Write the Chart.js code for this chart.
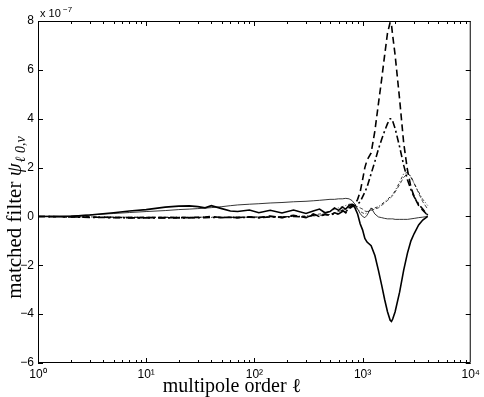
<!DOCTYPE html>
<html>
<head>
<meta charset="utf-8">
<script src="https://cdn.jsdelivr.net/npm/chart.js@4"></script>
<style>
  html, body { margin: 0; padding: 0; background: #fff; }
  #wrap { width: 484px; height: 397px; }
</style>
</head>
<body>
<div id="wrap"><canvas id="chart" width="484" height="397"></canvas></div>
<script>
// multipole order
const ell = [1, 2, 3, 5, 7, 10, 15, 20, 25, 30, 35, 40, 50, 60, 70, 90, 110, 140, 180, 230,
  300, 350, 400, 450, 500, 550, 600, 650, 700, 750, 800, 850, 900, 950, 1000, 1050, 1100,
  1200, 1300, 1400, 1500, 1600, 1700, 1800, 1850, 1900, 2000, 2200, 2400, 2600, 2800,
  3000, 3300, 3600, 4000];

// filter values, units of 1e-7
const thickSolid = [0, 0.01, 0.06, 0.15, 0.22, 0.28, 0.38, 0.42, 0.43, 0.4, 0.35, 0.44, 0.32, 0.22, 0.2, 0.26, 0.15, 0.25, 0.14, 0.26,
  0.12, 0.22, 0.3, 0.15, 0.2, 0.35, 0.25, 0.38, 0.3, 0.45, 0.5, 0.35, 0.1, -0.3, -0.55, -0.9, -1.05,
  -1.2, -1.6, -2.2, -2.8, -3.4, -3.9, -4.25, -4.3, -4.2, -3.9, -3.1, -2.2, -1.5, -1.0,
  -0.7, -0.35, -0.15, 0];
const thinSolid = [0, 0.02, 0.06, 0.12, 0.16, 0.2, 0.24, 0.28, 0.3, 0.32, 0.34, 0.36, 0.4, 0.44, 0.47, 0.5, 0.52, 0.55, 0.57, 0.6,
  0.62, 0.64, 0.66, 0.68, 0.7, 0.7, 0.72, 0.72, 0.74, 0.72, 0.65, 0.5, 0.3, 0.12, 0.0, -0.05, 0.05,
  0.35, 0.1, -0.02, -0.05, -0.08, -0.1, -0.1, -0.1, -0.1, -0.12, -0.12, -0.12, -0.12, -0.1,
  -0.08, -0.05, -0.03, 0];
const dashed = [0, -0.02, -0.03, -0.04, -0.05, -0.05, -0.05, -0.05, -0.05, -0.04, -0.03, 0.0, -0.05, -0.04, -0.05, -0.02, -0.05, 0.02, -0.05, 0.05,
  -0.05, 0.1, 0.0, 0.1, 0.05, 0.15, 0.1, 0.25, 0.15, 0.35, 0.45, 0.5, 0.7, 1.0, 1.5, 2.0, 2.3,
  2.6, 3.5, 4.6, 5.6, 6.6, 7.5, 7.95, 7.85, 7.4, 6.6, 4.8, 3.0, 1.9, 1.2,
  0.8, 0.45, 0.25, 0.05];
const dashDot = [0, -0.02, -0.04, -0.05, -0.06, -0.06, -0.06, -0.06, -0.06, -0.05, -0.05, -0.04, -0.05, -0.03, -0.05, -0.03, -0.05, -0.02, -0.04, 0.0,
  -0.03, 0.05, 0.0, 0.08, 0.05, 0.12, 0.1, 0.2, 0.2, 0.3, 0.4, 0.45, 0.5, 0.6, 0.8, 1.0, 1.2,
  1.75, 2.25, 2.75, 3.15, 3.5, 3.8, 4.0, 4.0, 3.9, 3.6, 2.85, 2.1, 1.5, 1.1,
  0.8, 0.5, 0.3, 0.05];
const dotted = [0, -0.01, -0.02, -0.03, -0.04, -0.04, -0.04, -0.04, -0.04, -0.04, -0.04, -0.04, -0.04, -0.04, -0.04, -0.03, -0.03, -0.02, -0.02, 0.0,
  0.02, 0.05, 0.1, 0.15, 0.2, 0.3, 0.35, 0.4, 0.45, 0.5, 0.5, 0.4, 0.3, 0.2, 0.15, 0.1, 0.15,
  0.3, 0.35, 0.4, 0.5, 0.6, 0.7, 0.8, 0.85, 0.9, 1.05, 1.4, 1.75, 1.8, 1.6,
  1.35, 1.0, 0.7, 0.45];
const thinDashed = [0, -0.01, -0.02, -0.03, -0.03, -0.03, -0.03, -0.03, -0.03, -0.03, -0.03, -0.03, -0.03, -0.03, -0.03, -0.03, -0.02, -0.02, -0.01, 0.0,
  0.0, 0.02, 0.05, 0.05, 0.08, 0.15, 0.2, 0.25, 0.3, 0.38, 0.45, 0.42, 0.4, 0.35, 0.3, 0.22, 0.2,
  0.25, 0.3, 0.35, 0.45, 0.55, 0.65, 0.75, 0.8, 0.85, 1.0, 1.3, 1.6, 1.75, 1.65,
  1.35, 0.95, 0.6, 0.3];

const xTicks = [1, 10, 100, 1000, 10000];
const xTickLabels = ['10\u2070', '10\u00b9', '10\u00b2', '10\u00b3', '10\u2074'];
const yTicks = [-6, -4, -2, 0, 2, 4, 6, 8];

function pts(vals) {
  return ell.map((l, i) => ({ x: l, y: vals[i] }));
}

function ds(vals, width, dash) {
  return {
    data: pts(vals),
    borderColor: '#000',
    borderWidth: width,
    borderDash: dash,
    pointRadius: 0,
    fill: false,
    tension: 0
  };
}

// inward ticks on all four sides, multiplier and axis titles
const axisDecor = {
  id: 'axisDecor',
  afterDraw(chart) {
    const c = chart.ctx;
    const a = chart.chartArea;
    const xs = chart.scales.x, ys = chart.scales.y;
    c.save();
    c.strokeStyle = '#000';
    c.lineWidth = 1;
    c.beginPath();
    c.rect(a.left + 0.5, a.top + 0.5, a.right - a.left - 1, a.bottom - a.top - 1);
    c.stroke();
    c.beginPath();
    for (let d = 0; d < 4; d++) {
      for (let m = 1; m <= 9; m++) {
        const v = m * Math.pow(10, d);
        const px = Math.round(xs.getPixelForValue(v)) + 0.5;
        const len = m === 1 ? 5 : 3;
        c.moveTo(px, a.bottom); c.lineTo(px, a.bottom - len);
        c.moveTo(px, a.top); c.lineTo(px, a.top + len);
      }
    }
    yTicks.forEach(v => {
      const py = Math.round(ys.getPixelForValue(v)) + 0.5;
      c.moveTo(a.left, py); c.lineTo(a.left + 5, py);
      c.moveTo(a.right, py); c.lineTo(a.right - 5, py);
    });
    c.stroke();

    c.fillStyle = '#000';
    c.font = '11px "Liberation Sans", Arial, sans-serif';
    c.textBaseline = 'alphabetic';
    c.fillText('x 10', a.left + 2, a.top - 4);
    c.font = '8px "Liberation Sans", Arial, sans-serif';
    c.fillText('\u22127', a.left + 25, a.top - 9);

    // x title
    c.font = '20px "Liberation Serif", "Times New Roman", serif';
    c.textAlign = 'center';
    c.textBaseline = 'alphabetic';
    c.fillText('multipole order \u2113', 232, 392);
    c.textAlign = 'left';

    // y title with subscript
    c.translate(15, 218);
    c.rotate(-Math.PI / 2);
    const main = 'matched filter ';
    const psi = '\u03c8';
    const sub = '\u2113 0,\u03bd';
    c.font = '21px "Liberation Serif", serif';
    const w1 = c.measureText(main).width;
    c.font = 'italic 21px "Liberation Serif", serif';
    const w2 = c.measureText(psi).width;
    c.font = 'italic 14px "Liberation Serif", serif';
    const w3 = c.measureText(sub).width;
    const x0 = -(w1 + w2 + w3) / 2;
    c.textBaseline = 'middle';
    c.font = '21px "Liberation Serif", serif';
    c.fillText(main, x0, 0);
    c.font = 'italic 21px "Liberation Serif", serif';
    c.fillText(psi, x0 + w1, 0);
    c.font = 'italic 14px "Liberation Serif", serif';
    c.fillText(sub, x0 + w1 + w2 + 1, 6);
    c.restore();
  }
};

new Chart(document.getElementById('chart').getContext('2d'), {
  type: 'line',
  data: {
    datasets: [
      ds(thinSolid, 0.8, []),
      ds(thinDashed, 0.7, [4, 2]),
      ds(dotted, 0.8, [3, 2, 1, 2]),
      ds(dashDot, 1.6, [7, 3, 2, 3]),
      ds(dashed, 1.6, [7, 4]),
      ds(thickSolid, 1.6, [])
    ]
  },
  options: {
    responsive: false,
    animation: false,
    layout: { padding: { top: 21, right: 11, left: 0, bottom: 0 } },
    plugins: { legend: { display: false }, tooltip: { enabled: false } },
    scales: {
      x: {
        type: 'logarithmic',
        min: 1,
        max: 10000,
        afterBuildTicks: s => { s.ticks = xTicks.map(v => ({ value: v })); },
        afterFit: s => { s.height = 34; },
        grid: { display: false, drawTicks: false },
        border: { display: false },
        ticks: {
          padding: 4,
          maxRotation: 0,
          color: '#000',
          font: { family: '"Liberation Sans", Arial, sans-serif', size: 12 },
          callback: v => xTickLabels[xTicks.indexOf(v)]
        }
      },
      y: {
        min: -6,
        max: 8,
        afterBuildTicks: s => { s.ticks = yTicks.map(v => ({ value: v })); },
        afterFit: s => { s.width = 38; },
        grid: { display: false, drawTicks: false },
        border: { display: false },
        ticks: {
          padding: 4,
          color: '#000',
          font: { family: '"Liberation Sans", Arial, sans-serif', size: 12 },
          callback: v => (v < 0 ? '\u2212' + Math.abs(v) : String(v))
        }
      }
    }
  },
  plugins: [axisDecor]
});
</script>
</body>
</html>
